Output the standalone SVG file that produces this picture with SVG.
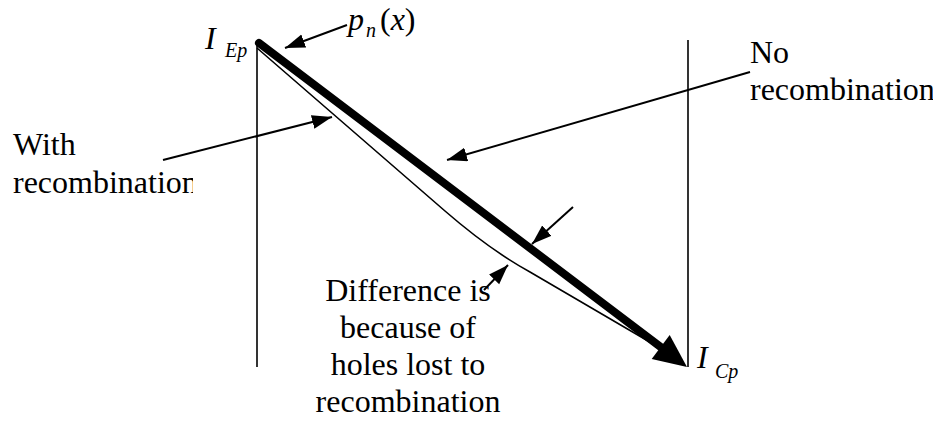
<svg xmlns="http://www.w3.org/2000/svg" width="940" height="421" viewBox="0 0 940 421">
<defs>
<marker id="ah" markerUnits="userSpaceOnUse" markerWidth="22" markerHeight="16" refX="20" refY="7" orient="auto">
<path d="M0,0 L20,7 L0,14 z" fill="#000"/>
</marker>
<clipPath id="cl"><rect x="0" y="160" width="193" height="50"/></clipPath>
<clipPath id="cr"><rect x="740" y="70" width="193" height="50"/></clipPath>
</defs>
<g id="axes" stroke="#000" stroke-width="1.6" fill="none">
<line x1="257" y1="44" x2="257" y2="367"/>
<line x1="688" y1="40" x2="688" y2="367"/>
</g>
<g id="curves">
<path d="M257,48 L445,211 Q490,250 530,272 L660,348" stroke="#000" stroke-width="1.6" fill="none"/>
<line x1="259" y1="43" x2="662" y2="348" stroke="#000" stroke-width="8" stroke-linecap="round"/>
<polygon points="687,367 669.7,335.1 651.7,359.1" fill="#000"/>
</g>
<g id="connectors" stroke="#000" stroke-width="2" fill="none" marker-end="url(#ah)">
<line x1="347" y1="25" x2="285" y2="48"/>
<line x1="163" y1="160" x2="332" y2="117"/>
<line x1="750" y1="72" x2="447" y2="160"/>
<line x1="573" y1="207" x2="532" y2="244"/>
<line x1="484" y1="290" x2="508" y2="265"/>
</g>
<g id="label-IEp">
<text x="205" y="49" style="font-family:'Liberation Serif',serif;font-size:32px;font-style:italic">I</text>
<text x="225" y="57" style="font-family:'Liberation Serif',serif;font-size:20px;font-style:italic">Ep</text>
</g>
<g id="label-pn">
<text x="348" y="30" style="font-family:'Liberation Serif',serif;font-size:32px;font-style:italic">p</text>
<text x="366" y="37" style="font-family:'Liberation Serif',serif;font-size:20px;font-style:italic">n</text>
<text x="380" y="30" style="font-family:'Liberation Serif',serif;font-size:32px">(<tspan style="font-style:italic">x</tspan>)</text>
</g>
<g id="label-ICp">
<text x="697" y="368" style="font-family:'Liberation Serif',serif;font-size:32px;font-style:italic">I</text>
<text x="715" y="378" style="font-family:'Liberation Serif',serif;font-size:20px;font-style:italic">Cp</text>
</g>
<g id="label-with">
<text x="13" y="155" style="font-family:'Liberation Serif',serif;font-size:32px">With</text>
<text x="13" y="193" clip-path="url(#cl)" style="font-family:'Liberation Serif',serif;font-size:32px">recombination</text>
</g>
<g id="label-no">
<text x="750" y="63" style="font-family:'Liberation Serif',serif;font-size:32px">No</text>
<text x="750" y="100" clip-path="url(#cr)" style="font-family:'Liberation Serif',serif;font-size:32px">recombination</text>
</g>
<g id="label-diff">
<text x="408" y="301" text-anchor="middle" style="font-family:'Liberation Serif',serif;font-size:32px">Difference is</text>
<text x="408" y="338" text-anchor="middle" style="font-family:'Liberation Serif',serif;font-size:32px">because of</text>
<text x="408" y="375" text-anchor="middle" style="font-family:'Liberation Serif',serif;font-size:32px">holes lost to</text>
<text x="408" y="412" text-anchor="middle" style="font-family:'Liberation Serif',serif;font-size:32px">recombination</text>
</g>
</svg>
